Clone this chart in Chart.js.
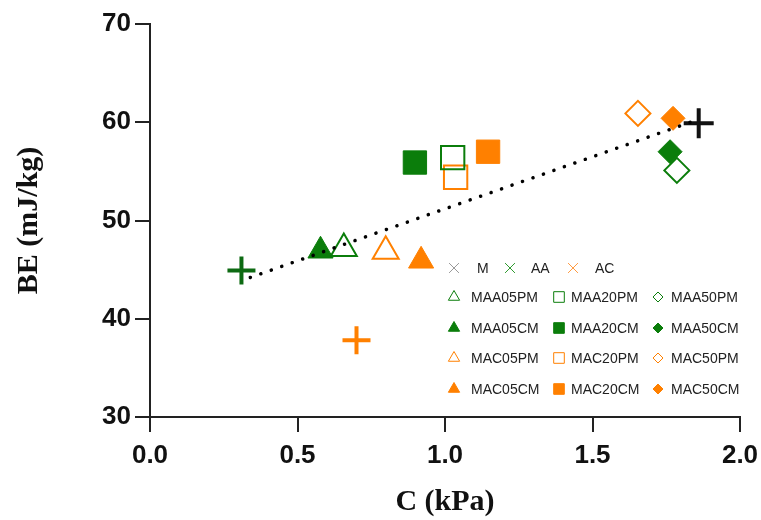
<!DOCTYPE html>
<html>
<head>
<meta charset="utf-8">
<script src="https://cdn.jsdelivr.net/npm/chart.js@4.4.1/dist/chart.umd.min.js"></script>
<style>
  html, body { margin: 0; padding: 0; background: #fff; }
  #wrap { width: 761px; height: 520px; position: relative; }
</style>
</head>
<body>
<div id="wrap"><canvas id="myChart" width="761" height="520"></canvas></div>
<script>
// one point per series
const seriesNames = ['M', 'AA', 'AC',
  'MAA05PM', 'MAA05CM', 'MAC05PM', 'MAC05CM',
  'MAA20PM', 'MAA20CM', 'MAC20PM', 'MAC20CM',
  'MAA50PM', 'MAA50CM', 'MAC50PM', 'MAC50CM'];
const cohesion = [1.86, 0.31, 0.70,
  0.657, 0.578, 0.799, 0.919,
  1.026, 0.898, 1.036, 1.146,
  1.786, 1.763, 1.654, 1.773];
const bondEnergy = [59.9, 44.9, 37.8,
  47.15, 46.92, 46.87, 45.9,
  56.4, 55.9, 54.4, 57.0,
  55.1, 57.0, 60.9, 60.4];

// dotted trend line ends
const trendX = [0.34, 1.86];
const trendY = [44.2, 60.3];

const xTicks = [0, 0.5, 1.0, 1.5, 2.0];
const yTicks = [30, 40, 50, 60, 70];

const GREEN = '#0b7d0b';
const ORANGE = '#ff8000';

// marker style per series: [shape, colour, filled, radius]
const markerStyles = {
  M:       ['cross', '#111111', true, 15],
  AA:      ['cross', '#0d6a12', true, 14],
  AC:      ['cross', ORANGE, true, 14],
  MAA05PM: ['triangle', GREEN, false, 15],
  MAA05CM: ['triangle', GREEN, true, 14.5],
  MAC05PM: ['triangle', ORANGE, false, 15],
  MAC05CM: ['triangle', ORANGE, true, 14.5],
  MAA20PM: ['rect', GREEN, false, 16.5],
  MAA20CM: ['rect', GREEN, true, 16.5],
  MAC20PM: ['rect', ORANGE, false, 16.5],
  MAC20CM: ['rect', ORANGE, true, 16.5],
  MAA50PM: ['rectRot', GREEN, false, 12.5],
  MAA50CM: ['rectRot', GREEN, true, 12],
  MAC50PM: ['rectRot', ORANGE, false, 12.5],
  MAC50CM: ['rectRot', ORANGE, true, 12]
};

// legend layout: [name, marker, colour, filled, col]
const legendRows = [
  ['M', 'crossRot', '#999999', true, 0],
  ['AA', 'crossRot', '#2e9a2e', true, 1],
  ['AC', 'crossRot', '#ff9a40', true, 2]
];
const legendGrid = [
  ['MAA05PM', 'MAA20PM', 'MAA50PM'],
  ['MAA05CM', 'MAA20CM', 'MAA50CM'],
  ['MAC05PM', 'MAC20PM', 'MAC50PM'],
  ['MAC05CM', 'MAC20CM', 'MAC50CM']
];

const datasets = seriesNames.map((name, i) => {
  const [shape, color, filled, r] = markerStyles[name];
  const isCross = shape === 'cross';
  return {
    label: name,
    type: 'scatter',
    data: [{ x: cohesion[i], y: bondEnergy[i] }],
    pointStyle: shape,
    pointRadius: r,
    pointHoverRadius: r,
    pointBorderColor: color,
    pointBackgroundColor: filled ? color : 'rgba(0,0,0,0)',
    pointBorderWidth: isCross ? 4 : (filled ? 1 : 2),
    order: 2
  };
});

datasets.push({
  label: 'trend',
  type: 'line',
  data: trendX.map((x, i) => ({ x: x, y: trendY[i] })),
  borderColor: '#000',
  borderWidth: 3.5,
  borderDash: [0.1, 11],
  borderCapStyle: 'round',
  pointRadius: 0,
  fill: false,
  order: 1
});

const legendPlugin = {
  id: 'gridLegend',
  afterDatasetsDraw(chart) {
    const ctx = chart.ctx;
    const colMarker = [454, 559, 658];
    const colText = [471, 571, 671];
    const rowY = [268, 297, 328, 358, 389];
    const small = { triangle: 6.5, rect: 7.5, rectRot: 5, crossRot: 7 };

    function mark(shape, color, filled, x, y) {
      ctx.save();
      ctx.strokeStyle = color;
      ctx.fillStyle = filled ? color : 'rgba(0,0,0,0)';
      Chart.helpers.drawPoint(ctx, {
        pointStyle: shape, rotation: 0, radius: small[shape],
        borderWidth: filled && shape !== 'crossRot' ? 0.5 : 1.6
      }, x, y);
      ctx.restore();
    }

    ctx.save();
    ctx.font = '14px "Liberation Sans", Arial, sans-serif';
    ctx.textBaseline = 'middle';
    ctx.textAlign = 'left';
    legendRows.forEach(([name, shape, color, filled, c]) => {
      const mx = [454, 510, 573][c];
      const tx = [477, 531, 595][c];
      mark(shape, color, filled, mx, rowY[0]);
      ctx.fillStyle = '#222';
      ctx.fillText(name, tx, rowY[0] + 1);
    });
    legendGrid.forEach((row, r) => {
      row.forEach((name, c) => {
        const [shape, color, filled] = markerStyles[name];
        mark(shape, color, filled, colMarker[c], rowY[r + 1]);
        ctx.fillStyle = '#222';
        ctx.fillText(name, colText[c], rowY[r + 1] + 1);
      });
    });
    ctx.restore();
  }
};

const axisColor = '#222';

new Chart(document.getElementById('myChart'), {
  type: 'scatter',
  data: { datasets: datasets },
  options: {
    responsive: false,
    animation: false,
    layout: { padding: { left: 0, right: 21, top: 24, bottom: 0 } },
    plugins: {
      legend: { display: false },
      tooltip: { enabled: false }
    },
    scales: {
      x: {
        type: 'linear',
        min: 0,
        max: 2,
        afterBuildTicks: (axis) => { axis.ticks = xTicks.map(v => ({ value: v })); },
        afterFit: (axis) => {
          axis.height = 103;
          axis.paddingLeft = 0;
          axis.paddingRight = 0;
        },
        ticks: {
          padding: 8,
          color: '#111',
          font: { family: '"Liberation Sans", Arial, sans-serif', size: 26, weight: 'bold' },
          callback: (v) => Number(v).toFixed(1)
        },
        grid: { drawOnChartArea: false, drawTicks: true, tickLength: 15, color: axisColor, lineWidth: 2 },
        border: { display: true, color: axisColor, width: 2 },
        title: {
          display: true,
          text: 'C (kPa)',
          color: '#111',
          font: { family: '"Liberation Serif", "Times New Roman", serif', size: 30, weight: 'bold' },
          padding: { top: 0, bottom: 0 }
        }
      },
      y: {
        type: 'linear',
        min: 30,
        max: 70,
        afterBuildTicks: (axis) => { axis.ticks = yTicks.map(v => ({ value: v })); },
        afterFit: (axis) => {
          axis.width = 150;
          axis.paddingTop = 0;
          axis.paddingBottom = 0;
        },
        ticks: {
          padding: 4,
          color: '#111',
          font: { family: '"Liberation Sans", Arial, sans-serif', size: 26, weight: 'bold' }
        },
        grid: { drawOnChartArea: false, drawTicks: true, tickLength: 15, color: axisColor, lineWidth: 2 },
        border: { display: true, color: axisColor, width: 2 },
        title: {
          display: true,
          text: 'BE (mJ/kg)',
          color: '#111',
          font: { family: '"Liberation Serif", "Times New Roman", serif', size: 30, weight: 'bold' },
          padding: { top: 11, bottom: 0 }
        }
      }
    }
  },
  plugins: [legendPlugin]
});
</script>
</body>
</html>
